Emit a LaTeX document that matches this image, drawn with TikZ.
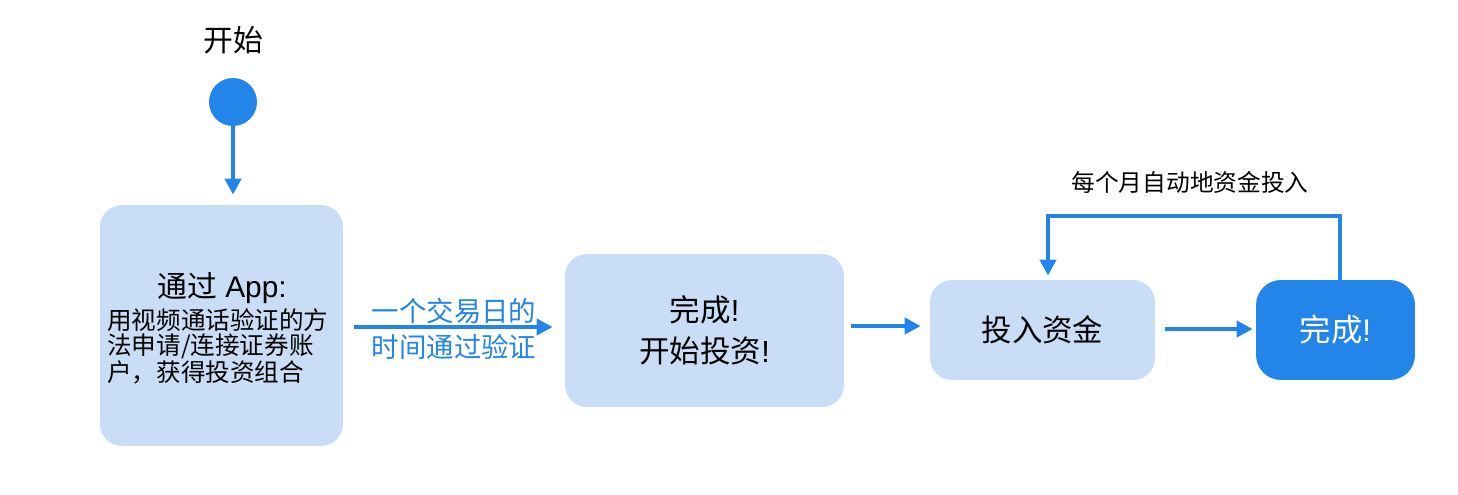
\documentclass[tikz,border=0pt]{standalone}
\usepackage{fontspec}
\setmainfont{Liberation Sans}
\newfontfamily\cjk{Noto Sans CJK SC}
\usetikzlibrary{arrows.meta, positioning, calc}
\definecolor{flowblue}{RGB}{35, 132, 233}
\definecolor{flowlight}{RGB}{201, 222, 246}

\begin{document}
\begin{tikzpicture}[x=0.02cm, y=-0.02cm,
        stepbox/.style={rectangle, rounded corners=4.4mm, fill=flowlight, inner sep=0pt},
        donebox/.style={rectangle, rounded corners=5mm, fill=flowblue, inner sep=0pt, text=white},
        startdot/.style={circle, fill=flowblue, minimum size=9.6mm, inner sep=0pt},
        conn/.style={-{Triangle[length=3.2mm, width=3.2mm]}, flowblue, line width=2.3pt},
        lbl/.style={font=\cjk\fontsize{13.5}{16}\selectfont}
      ]
        \useasboundingbox (0,0) rectangle (1458,494);
        \node[font=\cjk\fontsize{17}{20}\selectfont] (starttxt) at (233,40) {开始};
        \node[startdot] (start) at (233,102) {};
        \node[stepbox, minimum width=4.86cm, minimum height=4.82cm] (apply) at (221.5,325.5) {};
        \node[font=\fontsize{17}{20}\selectfont] (applytitle) at (222,288) {{\cjk 通过} App:};
        \node[font=\cjk\fontsize{14}{14.2}\selectfont, align=left, anchor=west] (applybody) at (101,346)
            {用视频通话验证的方\\法申请/连接证券账\\户，获得投资组合};
        \node[stepbox, minimum width=5.58cm, minimum height=3.06cm, font=\fontsize{17.4}{23.5}\selectfont, align=center]
            (ready) at (704.5,330.5) {{\cjk 完成}!\\{\cjk 开始投资}!};
        \node[stepbox, minimum width=4.5cm, minimum height=2cm, font=\cjk\fontsize{17.3}{20}\selectfont]
            (fund) at (1042.5,330) {投入资金};
        \node[donebox, minimum width=3.18cm, minimum height=2cm, font=\fontsize{17.8}{20}\selectfont]
            (done) at (1335.5,330) {{\cjk 完成}!};
        \draw[conn, shorten >=0.2cm] (start) -- (start |- apply.north);
        \draw[conn, shorten <=0.22cm, shorten >=0.24cm] (apply.east |- 0,327) -- (ready.west |- 0,327)
            node[midway, above=-0.1cm, text=flowblue, font=\cjk\fontsize{15.6}{18}\selectfont] (daytop) {一个交易日的}
            node[midway, below=-0.02cm, text=flowblue, font=\cjk\fontsize{15.6}{18}\selectfont] (daybot) {时间通过验证};
        \draw[conn, shorten <=0.14cm, shorten >=0.18cm] (ready.east |- 0,326) -- (fund.west |- 0,326);
        \draw[conn, shorten <=0.2cm, shorten >=0.06cm] (fund.east |- 0,329) -- (done.west |- 0,329);
        % monthly loop back
        \draw[conn, shorten >=0.08cm] ([xshift=0.09cm]done.north) -- ++(0,-64) -| ([xshift=0.11cm]fund.north);
        \node[lbl] (monthly) at (1190,182) {每个月自动地资金投入};
      \end{tikzpicture}
\end{document}
